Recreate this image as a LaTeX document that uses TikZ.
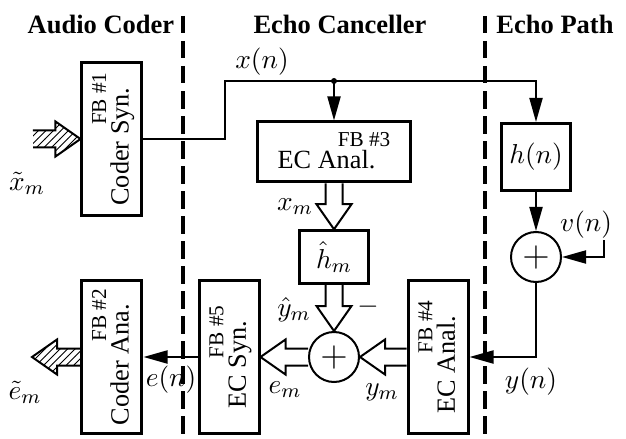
\documentclass[tikz,border=0pt]{standalone}
\usepackage{amsmath, amssymb}
\usepackage{fontspec}
\setmainfont{Liberation Serif}
\usepackage{graphicx}
\usepackage{tikz}
\usetikzlibrary{positioning, arrows.meta, calc, patterns}

\newcommand\fbtext[2]{\begin{tabular}{@{}r@{}}{\fontsize{8.5}{9}\selectfont FB \##1}\\[-2pt]#2\hspace*{6pt}\end{tabular}}
\newcommand\fbup[2]{\rotatebox{90}{\fbtext{#1}{#2}}}

\tikzset{
  fbwide/.style={draw, line width=1.2pt, minimum width=61pt, minimum height=24pt, inner sep=0pt, font=\fontsize{10.5}{11}\selectfont},
  fbtall/.style={draw, line width=1.2pt, minimum width=24pt, minimum height=61pt, inner sep=0pt, font=\fontsize{10.5}{11}\selectfont},
  mbox/.style={draw, line width=1.2pt, minimum width=27.6pt, inner sep=1pt},
  sumnode/.style={draw, circle, line width=0.8pt, minimum size=20pt, inner sep=0pt, font=\Large},
  sig/.style={line width=0.8pt, -{Triangle[length=9.6pt, width=5.2pt]}},
  fat/.style={draw, line width=0.8pt, to path={
      let \p1=(\tikztostart), \p2=(\tikztotarget), \p3=($(\p2)!10pt!(\p1)$) in
      ($(\p1)!3.4pt!90:(\p2)$) -- ($(\p3)!3.4pt!90:(\p2)$) -- ($(\p3)!7pt!90:(\p2)$) -- (\p2)
      -- ($(\p3)!7pt!-90:(\p2)$) -- ($(\p3)!3.4pt!-90:(\p2)$) -- ($(\p1)!3.4pt!-90:(\p2)$)}},
  hatched/.style={fat, pattern=north east lines},
  divider/.style={line width=1.4pt, dash pattern=on 7pt off 3pt},
  heading/.style={font=\fontsize{10.6}{12}\selectfont\bfseries},
}

\begin{document}
\begin{tikzpicture}[x=0.4pt, y=-0.4pt, on grid,
    every node/.style={font=\fontsize{11}{13}\selectfont}]
  \useasboundingbox (0,0) rectangle (626,439);

  % section headings
  \node[heading] (coderhead) at (101,24) {Audio Coder};
  \node[heading] (echohead) at (340,24) {Echo Canceller};
  \node[heading] (pathhead) at (555,24) {Echo Path};
  \draw[divider] (183,16) -- (183,439);
  \draw[divider] (485,16) -- (485,439);

  % blocks
  \node[sumnode] (sum1) at (334,357) {$+$};
  \node[fbtall] (fb5) [left=42pt of sum1] {\fbup{5}{EC Syn.}};
  \node[fbtall] (fb2) [left=46.8pt of fb5] {\fbup{2}{Coder Ana.}};
  \node[fbtall] (fb4) [right=41.6pt of sum1] {\fbup{4}{EC Anal.}};
  \node[mbox, minimum height=21pt] (hm) [above=40pt of sum1] {$\hat{h}_m$};
  \node[fbwide] (fb3) [above=42pt of hm] {\fbtext{3}{EC Anal.}};
  \node[fbtall] (fb1) [above=87.2pt of fb2] {\fbup{1}{Coder Syn.}};
  \node[sumnode] (sum2) [right=80.8pt of hm] {$+$};
  \node[mbox, minimum height=26.8pt] (hn) [above=40pt of sum2] {$h(n)$};

  % far-end signal
  \coordinate (bend) at (225,81);
  \coordinate (tap) at (fb3.north |- bend);
  \draw[sig] (fb1.east) -| (bend) -| (hn.north);
  \fill (tap) circle (1.2pt);
  \draw[sig] (tap) -- (fb3.north);

  % echo path
  \coordinate (vsrc) at (604,240);
  \draw[sig] (hn.south) -- (sum2.north);
  \draw[sig] (vsrc) |- (sum2.east);
  \draw[sig] (sum2.south) |- (fb4.east);

  % subband paths
  \draw[fat] (fb3.south) to (hm.north);
  \draw[fat] (hm.south) to (sum1.north);
  \draw[fat] (fb4.west) to (sum1.east);
  \draw[fat] (sum1.west) to (fb5.east);
  \draw[sig] (fb5.west) -- (fb2.east);

  % coder side
  \coordinate (xin) at (33,139);
  \coordinate (eout) at (32,357);
  \draw[hatched] (xin) to (fb1.west);
  \draw[hatched] (fb2.west) to (eout);

  % signal labels
  \node (xnlab) at (262,62) {$x(n)$};
  \node (vnlab) at (586,225) {$v(n)$};
  \node (ynlab) at (531,382) {$y(n)$};
  \node (ymlab) at (382,392) {$y_m$};
  \node (yhlab) at (294,310) {$\hat{y}_m$};
  \node (minus) at (368,307) {$-$};
  \node (xmlab) at (295,207) {$x_m$};
  \node (emlab) at (285,390) {$e_m$};
  \node (enlab) at (171,380) {$e(n)$};
  \node (etlab) at (25,392) {$\tilde{e}_m$};
  \node (xtlab) at (27,183) {$\tilde{x}_m$};
\end{tikzpicture}
\end{document}
